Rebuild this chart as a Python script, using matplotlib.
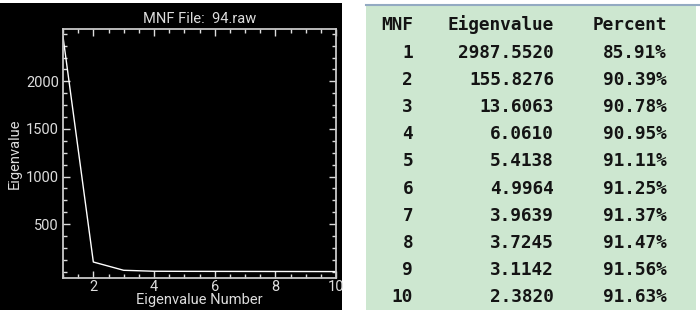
import numpy as np
import matplotlib.pyplot as plt
from matplotlib.patches import Rectangle
from matplotlib.ticker import MultipleLocator

# scree plot values (94.raw)
eig_number = [1, 2, 3, 4, 5, 6, 7, 8, 9, 10]
eig_plot = [2470, 103, 16, 6, 5, 4.5, 4, 3.5, 3, 2.5]

# table on the right
mnf_ids = ["1", "2", "3", "4", "5", "6", "7", "8", "9", "10"]
eigenvalues = ["2987.5520", "155.8276", "13.6063", "6.0610", "5.4138",
               "4.9964", "3.9639", "3.7245", "3.1142", "2.3820"]
percents = ["85.91%", "90.39%", "90.78%", "90.95%", "91.11%",
            "91.25%", "91.37%", "91.47%", "91.56%", "91.63%"]
headers = ["MNF", "Eigenvalue", "Percent"]

W, H = 700, 310
fig = plt.figure(figsize=(W / 100, H / 100), dpi=100)
fig.patch.set_facecolor("white")

# background layer in pixel coordinates: black plot window + table panel
tx = fig.add_axes([0, 0, 1, 1], zorder=-1)
tx.set_xlim(0, W)
tx.set_ylim(H, 0)
tx.axis("off")
tx.add_patch(Rectangle((0, 3), 342, 307, facecolor="black", edgecolor="none"))
tx.add_patch(Rectangle((366, 5), 330, 305, facecolor="#cde7d0", edgecolor="none"))
tx.plot([366, 700], [4.5, 4.5], color="#93aac2", lw=1.5)

col_right = [413, 554, 667]
mono = dict(family="DejaVu Sans Mono", weight="bold", fontsize=12.8, color="#141414",
            ha="right", va="center")
for cx, h in zip(col_right, headers):
    tx.text(cx, 25, h, **mono)
for i in range(len(mnf_ids)):
    y = 52.5 + i * 27.2
    tx.text(col_right[0], y, mnf_ids[i], **mono)
    tx.text(col_right[1], y, eigenvalues[i], **mono)
    tx.text(col_right[2], y, percents[i], **mono)

fg = "#dddddd"
font = "Roboto"
fs = 10.5

ax = fig.add_axes([63 / W, (H - 278) / H, 273 / W, 249 / H], zorder=1)
ax.set_facecolor("black")
ax.plot(eig_number, eig_plot, color="white", lw=1.0)
ax.set_xlim(1, 10)
ax.set_ylim(-65, 2550)
ax.xaxis.set_minor_locator(MultipleLocator(0.5))
ax.set_yticks([500, 1000, 1500, 2000])
ax.yaxis.set_minor_locator(MultipleLocator(125))
for s in ax.spines.values():
    s.set_color("#c8c8c8")
    s.set_linewidth(1.3)
ax.tick_params(which="both", direction="in", top=True, right=True, colors=fg,
               labelsize=fs, width=1.0)
ax.tick_params(which="major", length=5, pad=3)
ax.tick_params(axis="x", which="major", pad=1.5)
ax.tick_params(which="minor", length=3)
ax.set_xticks([2, 4, 6, 8, 10])
ax.set_xticklabels(["2", "4", "6", "8", "10"])
for lab in ax.get_xticklabels() + ax.get_yticklabels():
    lab.set_fontfamily(font)
    lab.set_color(fg)
ax.set_xlabel("Eigenvalue Number", color=fg, fontsize=fs, family=font, labelpad=-1)
ax.set_ylabel("Eigenvalue", color=fg, fontsize=fs, family=font, labelpad=3)
ax.set_title("MNF File:  94.raw", color=fg, fontsize=fs, family=font, pad=4)

fig.savefig("out.png", dpi=100)
